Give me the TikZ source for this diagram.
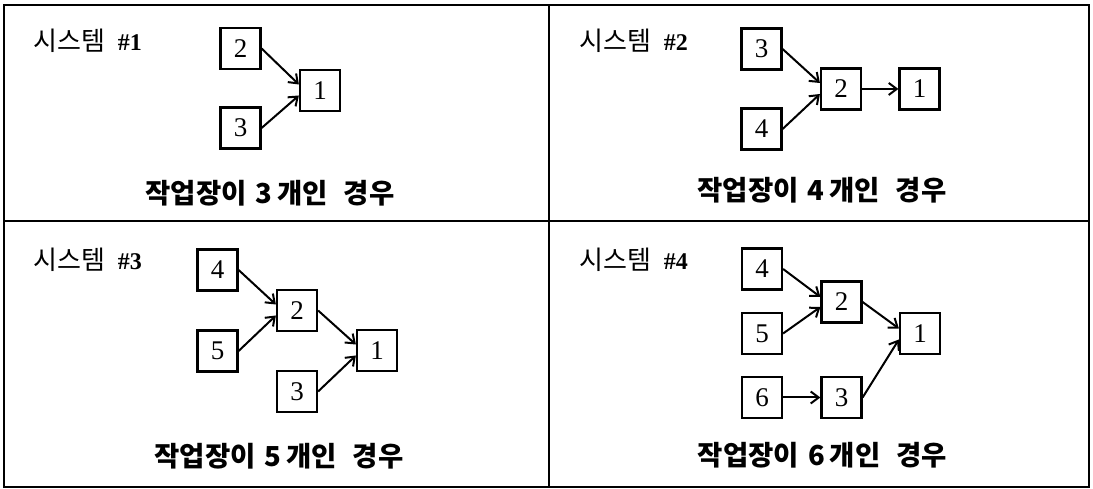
\documentclass[tikz,border=0pt]{standalone}
\usepackage{fontspec}
\setmainfont{Liberation Serif}
\newfontfamily\kr{Noto Sans CJK KR}
\usetikzlibrary{arrows.meta}
\begin{document}
\begin{tikzpicture}[x=1pt,y=1pt,
 box/.style={draw, line width=2.2pt, minimum width=40pt, minimum height=41pt, inner sep=0pt, font=\fontsize{27}{27}\selectfont},
 arr/.style={line width=2pt, -{Straight Barb[length=8pt,width=12pt]}},
 title/.style={anchor=west, inner sep=0pt, font=\kr\fontsize{26}{26}\selectfont},
 caption/.style={inner sep=0pt, font=\kr\bfseries\fontsize{27.5}{27.5}\selectfont},
 frame/.style={line width=2.4pt}]
\useasboundingbox (0,0) rectangle (1093,489);
\draw[frame] (4,2) rectangle (1089,484);
\draw[frame] (549,2) -- (549,484);
\draw[frame] (4,268) -- (1089,268);

% titles
\node[title] (t1) at (33,448) {시스템\hspace{13pt}{\rmfamily\bfseries\fontsize{24}{24}\selectfont\#1}};
\node[title] (t2) at (579,448) {시스템\hspace{13pt}{\rmfamily\bfseries\fontsize{24}{24}\selectfont\#2}};
\node[title] (t3) at (33,229) {시스템\hspace{13pt}{\rmfamily\bfseries\fontsize{24}{24}\selectfont\#3}};
\node[title] (t4) at (579,229) {시스템\hspace{13pt}{\rmfamily\bfseries\fontsize{24}{24}\selectfont\#4}};

% captions
\node[caption] (k1) at (270,295.5) {작업장이\hspace{9pt}3\hspace{5pt}개인\hspace{16pt}경우};
\node[caption] (k2) at (822,299) {작업장이\hspace{9pt}4\hspace{5pt}개인\hspace{16pt}경우};
\node[caption] (k3) at (279,33) {작업장이\hspace{9pt}5\hspace{5pt}개인\hspace{16pt}경우};
\node[caption] (k4) at (822.5,34) {작업장이\hspace{9pt}6\hspace{5pt}개인\hspace{16pt}경우};

% panel 1
\node[box] (a2) at (240.5,440.5) {2};
\node[box] (a1) at (320,398.5) {1};
\node[box] (a3) at (240.5,361) {3};
\draw[arr] (a2.east) -- ([yshift=6pt]a1.west);
\draw[arr] (a3.east) -- ([yshift=-5pt]a1.west);

% panel 2
\node[box] (b3) at (761.5,440) {3};
\node[box] (b2) at (841,400) {2};
\node[box] (b1) at (919.5,400) {1};
\node[box] (b4) at (761.5,360) {4};
\draw[arr] (b3.east) -- ([yshift=6pt]b2.west);
\draw[arr] (b4.east) -- ([yshift=-5pt]b2.west);
\draw[arr] (b2.east) -- (b1.west);

% panel 3
\node[box] (c4) at (217.5,219) {4};
\node[box] (c2) at (297,178.5) {2};
\node[box] (c5) at (217.5,138) {5};
\node[box] (c1) at (377,138.5) {1};
\node[box] (c3) at (297,97.5) {3};
\draw[arr] (c4.east) -- ([yshift=6pt]c2.west);
\draw[arr] (c5.east) -- ([yshift=-5pt]c2.west);
\draw[arr] (c2.east) -- ([yshift=6pt]c1.west);
\draw[arr] (c3.east) -- ([yshift=-5pt]c1.west);

% panel 4
\node[box] (d4) at (762,220) {4};
\node[box] (d2) at (841.5,187) {2};
\node[box] (d5) at (762,155.5) {5};
\node[box] (d1) at (920,155.5) {1};
\node[box] (d6) at (762,91.5) {6};
\node[box] (d3) at (841.5,91.5) {3};
\draw[arr] (d4.east) -- ([yshift=5pt]d2.west);
\draw[arr] (d5.east) -- ([yshift=-5pt]d2.west);
\draw[arr] (d2.east) -- ([yshift=5pt]d1.west);
\draw[arr] (d3.east) -- ([yshift=-6pt]d1.west);
\draw[arr] (d6.east) -- (d3.west);
\end{tikzpicture}
\end{document}
